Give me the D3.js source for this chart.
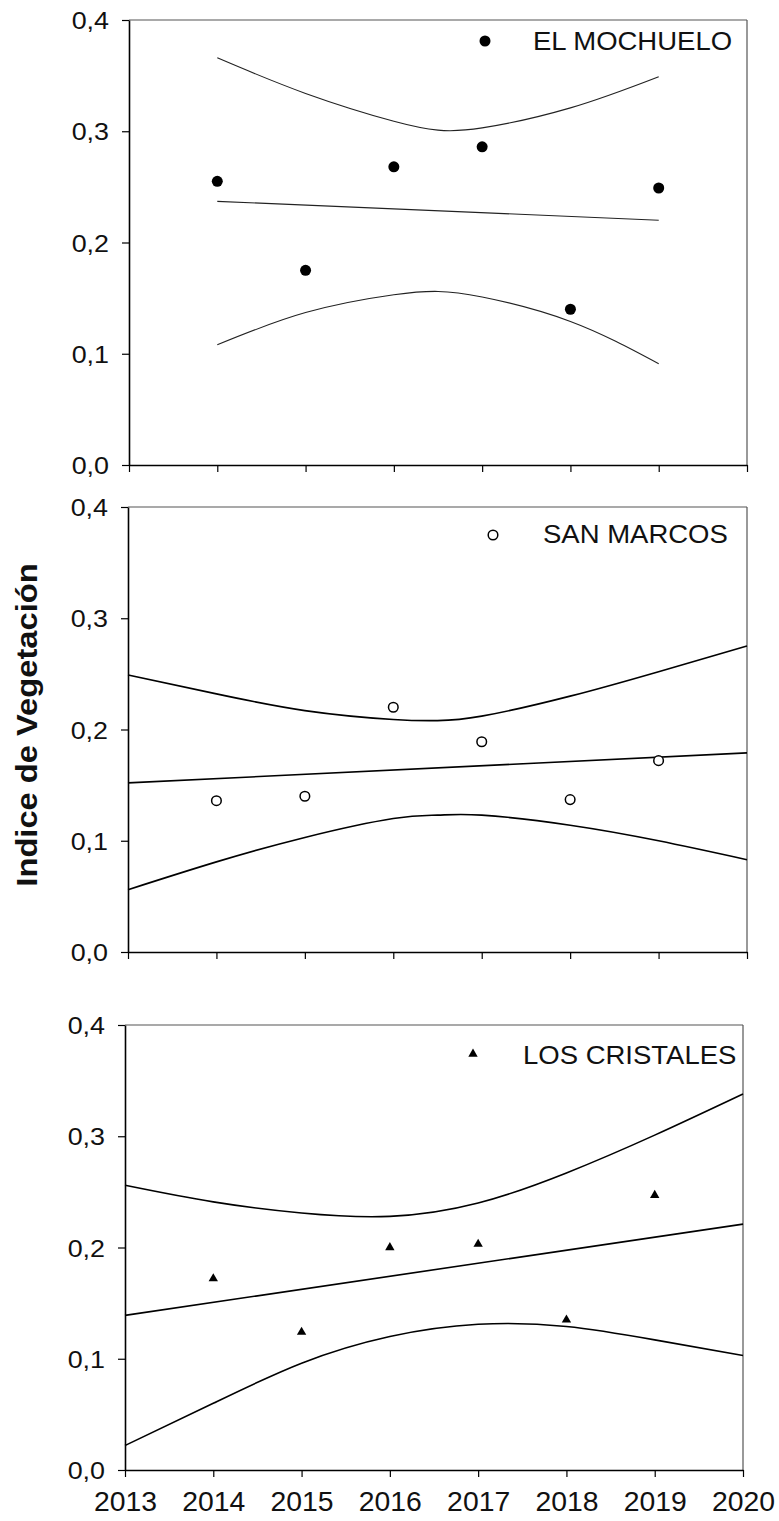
<!DOCTYPE html>
<html><head><meta charset="utf-8">
<script src="https://cdn.jsdelivr.net/npm/d3@7"></script>
<style>body{margin:0;background:#fff}svg{display:block}</style>
</head><body>
<svg id="c" width="779" height="1521"></svg>
<script>
// ---- data ----
const pointYears = [2014, 2015, 2016, 2017, 2018, 2019];
const xTickValues = [2013, 2014, 2015, 2016, 2017, 2018, 2019, 2020];
const yTickValues = [0, 0.1, 0.2, 0.3, 0.4];
const siteNames = ["EL MOCHUELO", "SAN MARCOS", "LOS CRISTALES"];
const yTitle = "Indice de Vegetación";

const mochueloValues = [0.255, 0.175, 0.268, 0.286, 0.140, 0.249];
const mochueloFitX = [2014, 2019];
const mochueloFitY = [0.237, 0.220];
const mochueloBandX = [2014, 2015, 2016, 2016.5, 2017, 2018, 2019];
const mochueloUpper = [0.366, 0.334, 0.309, 0.301, 0.303, 0.321, 0.349];
const mochueloLower = [0.108, 0.137, 0.153, 0.156, 0.151, 0.129, 0.091];

const sanMarcosValues = [0.136, 0.140, 0.220, 0.189, 0.137, 0.172];
const sanMarcosFitX = [2013, 2020];
const sanMarcosFitY = [0.152, 0.179];
const sanMarcosBandX = [2013, 2014, 2015, 2016, 2016.5, 2017, 2018, 2019, 2020];
const sanMarcosUpper = [0.249, 0.232, 0.217, 0.209, 0.208, 0.212, 0.230, 0.252, 0.275];
const sanMarcosLower = [0.056, 0.081, 0.103, 0.120, 0.123, 0.123, 0.114, 0.100, 0.083];

const cristalesValues = [0.172, 0.124, 0.200, 0.203, 0.135, 0.247];
const cristalesFitX = [2013, 2020];
const cristalesFitY = [0.139, 0.221];
const cristalesBandX = [2013, 2014, 2015, 2016, 2017, 2018, 2019, 2020];
const cristalesUpper = [0.256, 0.241, 0.231, 0.228, 0.240, 0.267, 0.301, 0.338];
const cristalesLower = [0.022, 0.060, 0.096, 0.120, 0.131, 0.129, 0.117, 0.103];

// ---- layout ----
const panels = [
  {name: siteNames[0], values: mochueloValues, fitX: mochueloFitX, fitY: mochueloFitY,
   bandX: mochueloBandX, upper: mochueloUpper, lower: mochueloLower,
   left: 129, right: 747, top: 20, bottom: 465, marker: "filled", lw: 1.1, lc: "#222",
   legX: 485, legY: 41, legTextX: 533, legTextY: 50, xLabels: false},
  {name: siteNames[1], values: sanMarcosValues, fitX: sanMarcosFitX, fitY: sanMarcosFitY,
   bandX: sanMarcosBandX, upper: sanMarcosUpper, lower: sanMarcosLower,
   left: 128, right: 747, top: 507, bottom: 952, marker: "open", lw: 1.6, lc: "#000",
   legX: 493, legY: 535, legTextX: 543, legTextY: 543, xLabels: false},
  {name: siteNames[2], values: cristalesValues, fitX: cristalesFitX, fitY: cristalesFitY,
   bandX: cristalesBandX, upper: cristalesUpper, lower: cristalesLower,
   left: 125, right: 743, top: 1025, bottom: 1470, marker: "triangle", lw: 1.6, lc: "#000",
   legX: 473, legY: 1054, legTextX: 523, legTextY: 1064, xLabels: true}
];

const svg = d3.select("#c");
const FONT = "'Liberation Sans', Arial, sans-serif";
const fmt = v => d3.format(".1f")(v).replace(".", ",");

panels.forEach(p => {
  const x = d3.scaleLinear().domain([2013, 2020]).range([p.left, p.right]);
  const y = d3.scaleLinear().domain([0, 0.4]).range([p.bottom, p.top]);
  const g = svg.append("g");

  // frame top/right
  g.append("line").attr("x1", p.left).attr("x2", p.right).attr("y1", p.top).attr("y2", p.top)
    .attr("stroke", "#555").attr("stroke-width", 1.2);
  g.append("line").attr("x1", p.right).attr("x2", p.right).attr("y1", p.top).attr("y2", p.bottom)
    .attr("stroke", "#555").attr("stroke-width", 1.2);

  // y axis
  const ya = g.append("g").attr("transform", `translate(${p.left},0)`)
    .call(d3.axisLeft(y).tickValues(yTickValues).tickSize(7).tickSizeOuter(0).tickPadding(13).tickFormat(fmt));
  ya.select(".domain").attr("stroke", "#000").attr("stroke-width", 1.6);
  ya.selectAll(".tick line").attr("stroke", "#000").attr("stroke-width", 1.2);
  ya.selectAll(".tick text").attr("font-family", FONT).attr("font-size", 24).attr("fill", "#111")
    .attr("dy", "0.36em")
    .attr("transform", "scale(1.12,1)")
    .attr("x", -20 / 1.12);

  // x axis
  const xa = g.append("g").attr("transform", `translate(0,${p.bottom})`)
    .call(d3.axisBottom(x).tickValues(xTickValues).tickSize(7).tickSizeOuter(0).tickPadding(10)
      .tickFormat(p.xLabels ? d3.format("d") : () => ""));
  xa.select(".domain").attr("stroke", "#000").attr("stroke-width", 1.6);
  xa.selectAll(".tick line").attr("stroke", "#000").attr("stroke-width", 1.2);
  xa.selectAll(".tick text").attr("font-family", FONT).attr("font-size", 27).attr("fill", "#111")
    .attr("y", 0).attr("dy", 0)
    .each(function() {
      const t = d3.select(this);
      t.attr("transform", "translate(0,41) scale(1.05,1)");
    });

  // bands & fit
  const line = d3.line().x(d => x(d[0])).y(d => y(d[1]));
  const curve = d3.line().x(d => x(d[0])).y(d => y(d[1])).curve(d3.curveNatural);
  g.append("path").attr("d", curve(p.bandX.map((v, i) => [v, p.upper[i]])))
    .attr("fill", "none").attr("stroke", p.lc).attr("stroke-width", p.lw);
  g.append("path").attr("d", curve(p.bandX.map((v, i) => [v, p.lower[i]])))
    .attr("fill", "none").attr("stroke", p.lc).attr("stroke-width", p.lw);
  g.append("path").attr("d", line(p.fitX.map((v, i) => [v, p.fitY[i]])))
    .attr("fill", "none").attr("stroke", p.lc).attr("stroke-width", p.lw);

  // markers
  const drawMarker = (sel) => {
    if (p.marker === "filled") {
      sel.append("circle").attr("r", 5.5).attr("fill", "#000");
    } else if (p.marker === "open") {
      sel.append("circle").attr("r", 4.8).attr("fill", "#fff").attr("stroke", "#000").attr("stroke-width", 1.5);
    } else {
      sel.append("path").attr("d", d3.symbol(d3.symbolTriangle, 38)()).attr("fill", "#000");
    }
  };
  const pts = g.selectAll(".pt").data(p.values).join("g")
    .attr("transform", (d, i) => `translate(${x(pointYears[i])},${y(d)})`);
  pts.each(function() { drawMarker(d3.select(this)); });

  // legend
  drawMarker(g.append("g").attr("transform", `translate(${p.legX},${p.legY})`));
  g.append("text").attr("transform", `translate(${p.legTextX},${p.legTextY}) scale(1.1,1)`)
    .attr("font-family", FONT).attr("font-size", 25).attr("fill", "#111").text(p.name);
});

// y title
svg.append("text")
  .attr("transform", "translate(37,725) rotate(-90) scale(1.09,1)")
  .attr("text-anchor", "middle")
  .attr("font-family", FONT).attr("font-weight", "bold").attr("font-size", 30).attr("fill", "#111")
  .text(yTitle);
</script>
</body></html>
